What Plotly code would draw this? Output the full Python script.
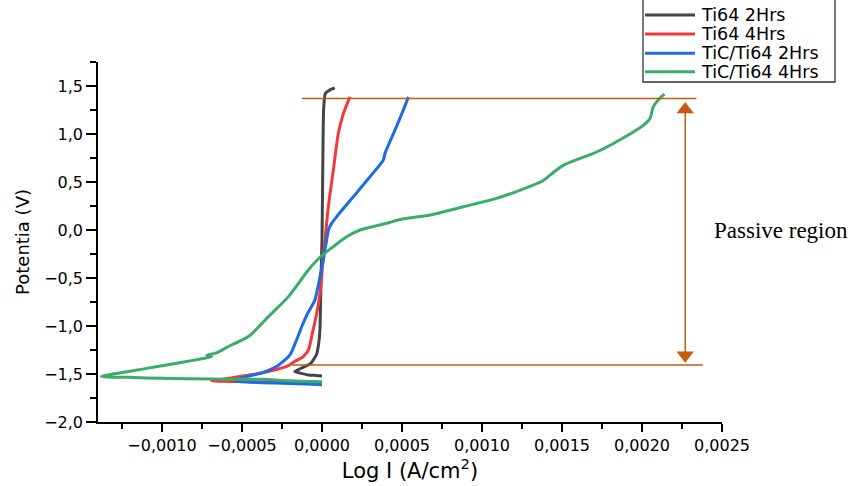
import plotly.graph_objects as go

series_names = ["Ti64 2Hrs", "Ti64 4Hrs", "TiC/Ti64 2Hrs", "TiC/Ti64 4Hrs"]
series_colors = ["#444444", "#f0393b", "#1e6be6", "#3aad6b"]

# Ti64 2Hrs
ti64_2_i = [0.0, -0.00004, -0.000085, -0.00017, -0.00013, -0.00007, -0.000035, -0.000018,
            -0.000012, -0.000006, 0.0, 0.000004, 0.000007, 0.00001, 0.00002, 0.00005, 0.00008]
ti64_2_v = [-1.52, -1.515, -1.51, -1.474, -1.44, -1.39, -1.30, -1.15,
            -1.0, -0.5, -0.1, 0.5, 1.0, 1.25, 1.42, 1.46, 1.48]

# Ti64 4Hrs
ti64_4_i = [0.0, -0.0001, -0.0003, -0.0005, -0.00069, -0.00062, -0.00054, -0.00045, -0.00038,
            -0.00028, -0.00022, -0.00017, -0.000117, -0.000085, -0.000065, -0.000033, -0.0000125,
            -0.000002, 0.000008, 0.0000188, 0.0000396, 0.0000708, 0.000102, 0.000133, 0.000175]
ti64_4_v = [-1.595, -1.592, -1.585, -1.578, -1.572, -1.555, -1.533, -1.51, -1.49,
            -1.45, -1.42, -1.37, -1.318, -1.25, -1.11, -0.867, -0.659,
            -0.486, -0.278, -0.104, 0.243, 0.624, 1.006, 1.21, 1.387]

# TiC/Ti64 2Hrs
tic_2_i = [0.0, -0.0001, -0.0003, -0.00045, -0.00054, -0.0005, -0.00038, -0.00027, -0.0002,
           -0.00016, -0.000125, -0.00009, -0.000044, -0.0000125, 0.000008, 0.000029, 0.00004,
           0.00006, 0.000092, 0.000196, 0.0003, 0.000383, 0.000394, 0.000456, 0.000508, 0.00054]
tic_2_v = [-1.613, -1.605, -1.595, -1.585, -1.575, -1.54, -1.49, -1.405, -1.30,
           -1.15, -1.0, -0.87, -0.728, -0.486, -0.312, -0.104, 0.0,
           0.069, 0.139, 0.347, 0.555, 0.728, 0.80, 1.04, 1.249, 1.387]

# TiC/Ti64 4Hrs
tic_4_i = [0.0, -0.0002, -0.00038, -0.00069, -0.001, -0.00121, -0.00138,
           -0.00121, -0.001, -0.00079, -0.00069, -0.00072, -0.00066, -0.000585, -0.00046,
           -0.000335, -0.00021, -0.000085, -0.0000125, 0.00007, 0.000154, 0.000238, 0.000404,
           0.00049, 0.000675, 0.000883, 0.00109, 0.00124, 0.00138, 0.001425, 0.00151, 0.00172,
           0.00193, 0.00201, 0.00205, 0.00207, 0.00211, 0.00214]
tic_4_v = [-1.58, -1.57, -1.555, -1.553, -1.545, -1.535, -1.525,
           -1.474, -1.415, -1.353, -1.32, -1.305, -1.28, -1.214, -1.11,
           -0.902, -0.694, -0.416, -0.284, -0.174, -0.07, 0.0, 0.07,
           0.11, 0.156, 0.242, 0.330, 0.416, 0.513, 0.572, 0.676, 0.815,
           1.006, 1.093, 1.162, 1.283, 1.370, 1.415]

series_i = [ti64_2_i, ti64_4_i, tic_2_i, tic_4_i]
series_v = [ti64_2_v, ti64_4_v, tic_2_v, tic_4_v]
series_smooth = [0.4, 0.7, 0.6, 0.7]

# Passive region markers
passive_top_v = 1.37
passive_bottom_v = -1.405
passive_top_x = [-0.000125, 0.00234]
passive_bottom_x = [-0.00019, 0.00238]
arrow_x = [0.00227, 0.00227]
arrow_line_v = [1.30, -1.35]
arrow_head_v = [1.255, -1.305]
arrow_symbols = ["triangle-up", "triangle-down"]
passive_label = "Passive region"

orange = "#C55A11"

fig = go.Figure()
for name, col, xi, yv, sm in zip(series_names, series_colors, series_i, series_v, series_smooth):
    fig.add_trace(go.Scatter(x=xi, y=yv, mode="lines", name=name, showlegend=False,
                             line=dict(color=col, width=3, shape="spline", smoothing=sm)))

# double-headed arrow (line + triangle heads)
fig.add_trace(go.Scatter(x=arrow_x, y=arrow_line_v, mode="lines", showlegend=False,
                         line=dict(color=orange, width=1.5), hoverinfo="skip"))
fig.add_trace(go.Scatter(x=arrow_x, y=arrow_head_v, mode="markers", showlegend=False,
                         marker=dict(symbol=arrow_symbols, size=15, color=orange,
                                     line=dict(width=0)), hoverinfo="skip"))

# horizontal passive-region lines
fig.add_shape(type="line", xref="x", yref="y", x0=passive_top_x[0], x1=passive_top_x[1],
              y0=passive_top_v, y1=passive_top_v, line=dict(color=orange, width=1.5))
fig.add_shape(type="line", xref="x", yref="y", x0=passive_bottom_x[0], x1=passive_bottom_x[1],
              y0=passive_bottom_v, y1=passive_bottom_v, line=dict(color=orange, width=1.5))

fig.add_annotation(x=0.00244, y=0.0, xref="x", yref="y", text=passive_label, showarrow=False,
                   xanchor="left", yanchor="middle",
                   font=dict(family="Liberation Serif", size=23, color="black"))

# manual legend (pixel positions converted to paper coords)
L, T, W, H = 98, 62, 624, 360
def px(x):
    return (x - L) / W
def py(y):
    return (T + H - y) / H

leg_y = [15, 34, 53.3, 71.7]
for name, col, yy in zip(series_names, series_colors, leg_y):
    fig.add_shape(type="line", xref="paper", yref="paper", x0=px(645), x1=px(695),
                  y0=py(yy), y1=py(yy), line=dict(color=col, width=3))
    fig.add_annotation(xref="paper", yref="paper", x=px(699), y=py(yy), text=name,
                       showarrow=False, xanchor="left", yanchor="middle",
                       font=dict(family="DejaVu Sans", size=17.5, color="black"))
fig.add_shape(type="path", xref="paper", yref="paper",
              path=f"M{px(643)},{py(-2)} L{px(643)},{py(82)} L{px(835)},{py(82)} L{px(835)},{py(-2)}",
              line=dict(color="#333333", width=1.3))

fig.update_layout(
    width=855, height=486,
    margin=dict(l=L, r=855 - L - W, t=T, b=486 - T - H),
    paper_bgcolor="white", plot_bgcolor="white",
    separators=",.",
    font=dict(family="DejaVu Sans", color="black"),
)
fig.update_xaxes(
    range=[-0.0014, 0.0025], tick0=0, dtick=0.0005, tickformat=".4f",
    showgrid=False, zeroline=False, showline=True, linecolor="black", linewidth=1.5,
    ticks="outside", ticklen=8, tickwidth=1.5, tickcolor="black",
    tickfont=dict(family="DejaVu Sans", size=16, color="black"),
    minor=dict(ticks="outside", ticklen=5, tickwidth=1.5, tickcolor="black", dtick=0.00025, showgrid=False),
    title=dict(text="Log I (A/cm<sup>2</sup>)", font=dict(family="DejaVu Sans", size=21, color="black"), standoff=8),
    automargin=False,
)
fig.update_yaxes(
    range=[-2.0, 1.75], tick0=0, dtick=0.5, tickformat=".1f",
    showgrid=False, zeroline=False, showline=True, linecolor="black", linewidth=1.5,
    ticks="outside", ticklen=10, tickwidth=1.5, tickcolor="black",
    tickfont=dict(family="DejaVu Sans", size=16, color="black"),
    minor=dict(ticks="outside", ticklen=6, tickwidth=1.5, tickcolor="black", dtick=0.25, showgrid=False),
    title=dict(text="Potentia (V)", font=dict(family="DejaVu Sans", size=18, color="black"), standoff=10),
    automargin=False,
)

fig.write_html("out.html")
